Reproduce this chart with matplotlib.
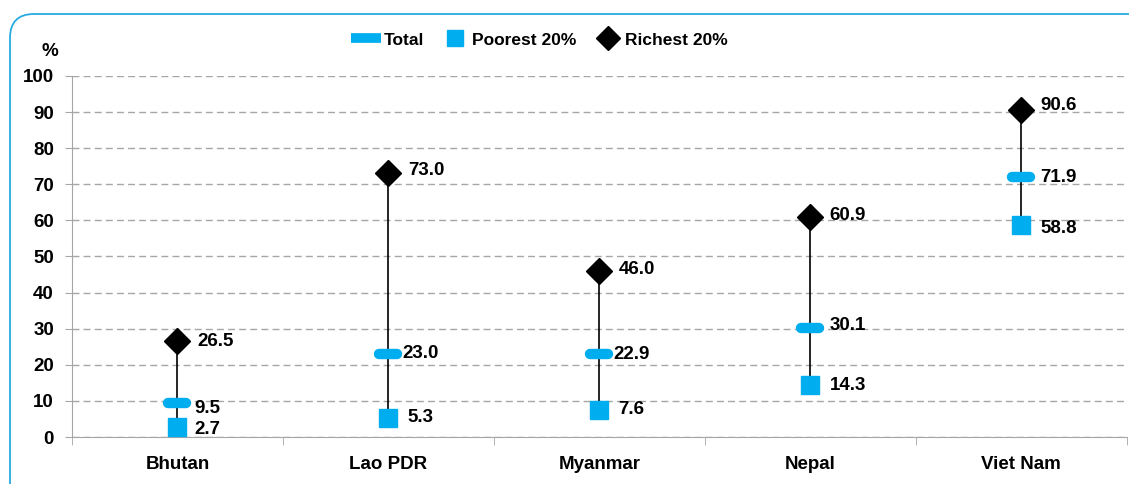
import numpy as np
import matplotlib.pyplot as plt
from matplotlib.markers import MarkerStyle
from matplotlib.patches import FancyBboxPatch
from matplotlib.lines import Line2D
from matplotlib.transforms import IdentityTransform

plt.rcParams['font.family'] = ['Liberation Sans', 'DejaVu Sans']
plt.rcParams['font.weight'] = 'bold'

countries = ['Bhutan', 'Lao PDR', 'Myanmar', 'Nepal', 'Viet Nam']
total = [9.5, 23.0, 22.9, 30.1, 71.9]
poorest = [2.7, 5.3, 7.6, 14.3, 58.8]
richest = [26.5, 73.0, 46.0, 60.9, 90.6]

blue = '#00AEEF'
fs = 13.5
fig = plt.figure(figsize=(11.29, 4.84), dpi=100)
ax = fig.add_axes([0.0638, 0.0971, 0.934, 0.746])

# rounded frame (pixel coords)
frame = FancyBboxPatch((10, -60), 1300, 484 - 14 + 60,
                       boxstyle='round,pad=0,rounding_size=24',
                       transform=IdentityTransform(), fill=False,
                       edgecolor='#29ABE2', lw=1.3)
fig.patches.append(frame)

x = np.arange(len(countries))
for i in x:
    ax.plot([i, i], [poorest[i], richest[i]], color='black', lw=1.2, zorder=2)

tot_marker = MarkerStyle('_', capstyle='round')
ax.plot(x, total, linestyle='none', marker=tot_marker, ms=13, mew=7.5,
        color=blue, zorder=3)
ax.plot(x, poorest, linestyle='none', marker='s', ms=13, color=blue, zorder=3)
ax.plot(x, richest, linestyle='none', marker='D', ms=13, color='black', zorder=3)

# label offsets (points)
off_t = [(12, -4), (10, 0), (10, 0), (14, 2), (14, 0)]
off_p = [(12, -1.5), (14, 0), (14, 0), (14, 0), (14, -3)]
off_r = [(14, 0), (14, 2), (14, 1), (14, 1), (14, 3)]
for i in x:
    for vals, offs in ((total, off_t), (poorest, off_p), (richest, off_r)):
        ax.annotate(f'{vals[i]:.1f}', (i, vals[i]), xytext=offs[i],
                    textcoords='offset points', ha='left', va='center',
                    fontsize=fs, fontweight='bold')

ax.set_xlim(-0.5, len(countries) - 0.5)
ax.set_ylim(0, 100)
ax.set_yticks(np.arange(0, 101, 10))
ax.set_xticks(x)
ax.set_xticklabels(countries, fontsize=fs, fontweight='bold')
ax.set_xticks(np.arange(-0.5, len(countries), 1), minor=True)
ax.tick_params(axis='x', which='major', length=0, pad=14)
ax.tick_params(axis='x', which='minor', length=6, color='#A6A6A6', direction='out')
ax.tick_params(axis='y', length=5, color='#A6A6A6', labelsize=fs, pad=8)
for lab in ax.get_yticklabels():
    lab.set_fontweight('bold')
ax.grid(axis='y', linestyle=(0, (5, 3)), color='#A6A6A6', lw=1)
ax.set_axisbelow(True)
for s in ['top', 'right']:
    ax.spines[s].set_visible(False)
ax.spines['left'].set_color('#A6A6A6')
ax.spines['bottom'].set_color('#A6A6A6')
ax.text(-0.021, 1.045, '%', transform=ax.transAxes, ha='center', va='bottom',
        fontsize=fs, fontweight='bold')

handles = [
    Line2D([], [], linestyle='none', marker=MarkerStyle('_'), ms=22, mew=7, color=blue),
    Line2D([], [], linestyle='none', marker='s', ms=12, color=blue),
    Line2D([], [], linestyle='none', marker='D', ms=12, color='black'),
]
fig.legend(handles, ['Total', 'Poorest 20%', 'Richest 20%'], loc='center',
           bbox_to_anchor=(540 / 1129, 1 - 40 / 484), ncol=3, frameon=False,
           prop={'size': 12.5, 'weight': 'bold'}, handletextpad=0.2,
           columnspacing=1.0, handlelength=1.6)

fig.savefig('out.png', dpi=100)
